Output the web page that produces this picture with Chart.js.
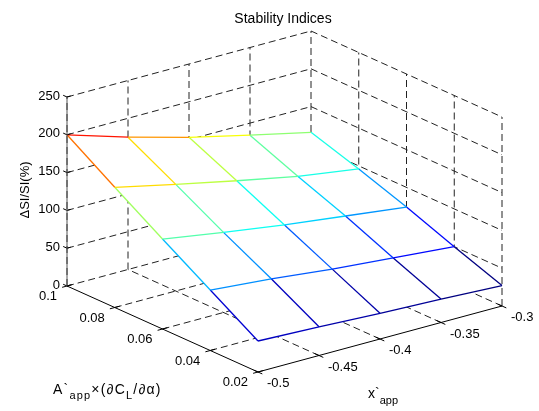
<!DOCTYPE html>
<html>
<head>
<meta charset="utf-8">
<title>Stability Indices</title>
<script src="https://cdn.jsdelivr.net/npm/chart.js@4.4.1/dist/chart.umd.min.js"></script>
<style>
  html, body { margin: 0; padding: 0; background: #fff; }
  #wrap { width: 539px; height: 411px; position: relative; }
</style>
</head>
<body>
<div id="wrap"><canvas id="chart"></canvas></div>
<script>
// surface grid
var xApp = [-0.5, -0.45, -0.4, -0.35, -0.3];
var aApp = [0.1, 0.08, 0.06, 0.04, 0.02];

// dSI/SI (%), one row per A`app value, read along x`app
var siA10 = [200, 175, 153, 134, 116];
var siA08 = [159, 141, 124, 108, 96];
var siA06 = [119, 106, 94, 84, 74];
var siA04 = [80, 73, 64, 57, 50];
var siA02 = [41, 38, 34, 31, 27];
var siRows = [siA10, siA08, siA06, siA04, siA02];

// axis ticks
var zTicks = [0, 50, 100, 150, 200, 250];
var aTicks = [0.1, 0.08, 0.06, 0.04, 0.02];
var xTicks = [-0.5, -0.45, -0.4, -0.35, -0.3];
var zTickLabels = ['0', '50', '100', '150', '200', '250'];
var aTickLabels = ['0.1', '0.08', '0.06', '0.04', '0.02'];
var xTickLabels = ['-0.5', '-0.45', '-0.4', '-0.35', '-0.3'];

var aMax = 0.1, aMin = 0.02, xMin = -0.5, xMax = -0.3, zMax = 250;
var FONT = '"Liberation Sans", Arial, Helvetica, sans-serif';

// fixed view of the box, into the chart's x/y value space
function proj(a, x, z) {
  var u = (aMax - a) / (aMax - aMin);
  var v = (x - xMin) / (xMax - xMin);
  var w = z / zMax;
  return { x: 67 + 191 * u + 244 * v, y: 286 + 86 * u - 66 * v - 189 * w };
}

var allZ = [].concat.apply([], siRows);
var zLo = Math.min.apply(null, allZ), zHi = Math.max.apply(null, allZ);

function jet(t) {
  function c(v) { return Math.round(255 * Math.max(0, Math.min(1, v))); }
  return 'rgb(' + c(1.5 - Math.abs(4 * t - 3)) + ',' + c(1.5 - Math.abs(4 * t - 2)) + ',' + c(1.5 - Math.abs(4 * t - 1)) + ')';
}
function edgeColor(z1, z2) {
  return jet((Math.min(z1, z2) - zLo) / (zHi - zLo));
}

var datasets = [];
function addLine(points, color, dash, order, width) {
  datasets.push({
    data: points, showLine: true, borderColor: color, borderWidth: width || 1,
    borderDash: dash || [], pointRadius: 0, pointHoverRadius: 0,
    fill: false, tension: 0, order: order
  });
}

var GRID = '#222', DASH = [7, 4];

// floor grid
aTicks.forEach(function (a) { if (a !== aMin) addLine([proj(a, xMin, 0), proj(a, xMax, 0)], GRID, DASH, 4); });
xTicks.forEach(function (x) { if (x !== xMin) addLine([proj(aMin, x, 0), proj(aMax, x, 0)], GRID, DASH, 4); });
// back wall (A`app = 0.1)
zTicks.forEach(function (z) { if (z) addLine([proj(aMax, xMin, z), proj(aMax, xMax, z)], GRID, DASH, 4); });
xTicks.forEach(function (x) { addLine([proj(aMax, x, 0), proj(aMax, x, zMax)], GRID, DASH, 4); });
// side wall (x`app = -0.3)
zTicks.forEach(function (z) { if (z) addLine([proj(aMax, xMax, z), proj(aMin, xMax, z)], GRID, DASH, 4); });
aTicks.forEach(function (a) { if (a !== aMax) addLine([proj(a, xMax, 0), proj(a, xMax, zMax)], GRID, DASH, 4); });

// white surface body hides what lies behind it
var outline = [];
var i, j;
for (j = 0; j < xApp.length; j++) outline.push(proj(aApp[0], xApp[j], siRows[0][j]));
for (i = 1; i < aApp.length; i++) outline.push(proj(aApp[i], xApp[4], siRows[i][4]));
for (j = 3; j >= 0; j--) outline.push(proj(aApp[4], xApp[j], siRows[4][j]));
for (i = 3; i >= 1; i--) outline.push(proj(aApp[i], xApp[0], siRows[i][0]));
datasets.push({
  data: outline, showLine: true, borderWidth: 0, borderColor: 'rgba(0,0,0,0)',
  backgroundColor: '#ffffff', fill: 'shape', pointRadius: 0, tension: 0, order: 3
});

// mesh
for (i = 0; i < aApp.length; i++) {
  for (j = 0; j < xApp.length - 1; j++) {
    addLine([proj(aApp[i], xApp[j], siRows[i][j]), proj(aApp[i], xApp[j + 1], siRows[i][j + 1])],
      edgeColor(siRows[i][j], siRows[i][j + 1]), null, 2, 1.3);
  }
}
for (j = 0; j < xApp.length; j++) {
  for (i = 0; i < aApp.length - 1; i++) {
    addLine([proj(aApp[i], xApp[j], siRows[i][j]), proj(aApp[i + 1], xApp[j], siRows[i + 1][j])],
      edgeColor(siRows[i][j], siRows[i + 1][j]), null, 2, 1.3);
  }
}

// axes and ticks
addLine([proj(aMax, xMin, 0), proj(aMin, xMin, 0)], '#000', null, 1);
addLine([proj(aMin, xMin, 0), proj(aMin, xMax, 0)], '#000', null, 1);
addLine([proj(aMax, xMin, 0), proj(aMax, xMin, zMax)], '#555', null, 1);
aTicks.forEach(function (a) { addLine([proj(a, xMin - 0.004, 0), proj(a, xMin + 0.004, 0)], '#000', null, 1); });
xTicks.forEach(function (x) { addLine([proj(aMin + 0.0018, x, 0), proj(aMin - 0.0018, x, 0)], '#000', null, 1); });
zTicks.forEach(function (z) { addLine([proj(aMax + 0.0016, xMin, z), proj(aMax, xMin, z), proj(aMax, xMin + 0.003, z)], '#000', null, 1); });

var labelPlugin = {
  id: 'labels3d',
  afterDraw: function (chart) {
    var ctx = chart.ctx, sx = chart.scales.x, sy = chart.scales.y;
    function px(p) { return { x: sx.getPixelForValue(p.x), y: sy.getPixelForValue(p.y) }; }
    // runs of [text, size, baseline shift], drawn one char after the other
    function rich(x0, y0, runs, gap) {
      var x = x0;
      runs.forEach(function (r) {
        ctx.font = r[1] + 'px ' + FONT;
        for (var k = 0; k < r[0].length; k++) {
          var ch = r[0].charAt(k);
          ctx.fillText(ch, x, y0 + (r[2] || 0));
          x += ctx.measureText(ch).width + gap;
        }
      });
    }
    ctx.save();
    ctx.fillStyle = '#000';

    ctx.font = '14px ' + FONT;
    ctx.textAlign = 'center';
    ctx.textBaseline = 'alphabetic';
    ctx.fillText('Stability Indices', 283, 23);

    ctx.font = '13px ' + FONT;
    ctx.textBaseline = 'middle';
    ctx.textAlign = 'right';
    zTicks.forEach(function (z, k) {
      var p = px(proj(aMax, xMin, z));
      ctx.fillText(zTickLabels[k], p.x - 7, p.y - 1);
    });
    aTicks.forEach(function (a, k) {
      var p = px(proj(a, xMin, 0));
      ctx.fillText(aTickLabels[k], p.x - 10, p.y + 10.5);
    });
    ctx.textAlign = 'left';
    xTicks.forEach(function (x, k) {
      var p = px(proj(aMin, x, 0));
      ctx.fillText(xTickLabels[k], p.x + 9, p.y + 11.5);
    });

    ctx.textBaseline = 'alphabetic';
    rich(53, 394, [['A`', 14], ['app', 11, 5], ['\u00d7(\u2202C', 14], ['L', 11, 5], ['/\u2202\u03b1)', 14]], 1.2);
    rich(368, 398, [['x`', 14], ['app', 11, 6]], 0);

    ctx.translate(25, 190);
    ctx.rotate(-Math.PI / 2);
    ctx.font = '13px ' + FONT;
    ctx.textAlign = 'center';
    ctx.textBaseline = 'middle';
    ctx.fillText('\u0394SI/SI(%)', 0, 0);
    ctx.restore();
  }
};

new Chart(document.getElementById('chart'), {
  type: 'scatter',
  data: { datasets: datasets },
  options: {
    responsive: true,
    maintainAspectRatio: false,
    animation: false,
    devicePixelRatio: 1,
    events: [],
    layout: { padding: 0 },
    plugins: { legend: { display: false }, tooltip: { enabled: false }, title: { display: false } },
    scales: {
      x: { type: 'linear', min: 0, max: 539, display: false },
      y: { type: 'linear', min: 0, max: 411, reverse: true, display: false }
    }
  },
  plugins: [labelPlugin]
});
</script>
</body>
</html>
